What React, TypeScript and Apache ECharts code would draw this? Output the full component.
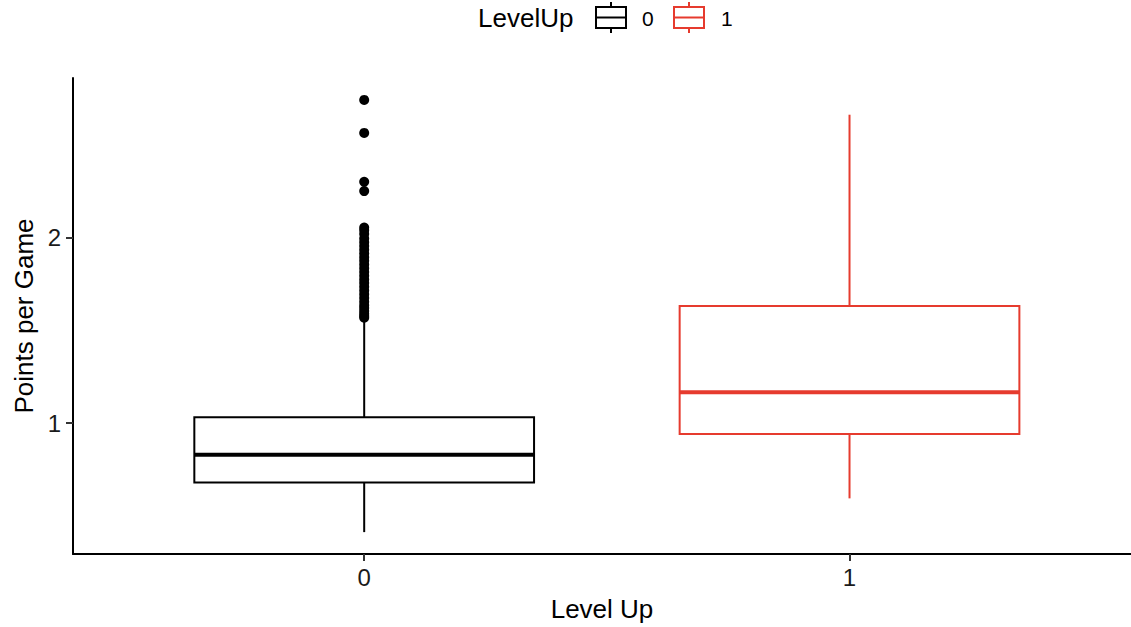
import React, { useEffect, useRef } from "react";
import * as echarts from "echarts";

const categories = ["0", "1"];
const groupColors = ["#000000", "#E63B2E"];
// [x, min(whisker low), Q1, median, Q3, max(whisker high)]
const boxStats = [
  [0, 0.412, 0.679, 0.829, 1.032, 1.55],
  [1, 0.594, 0.941, 1.166, 1.631, 2.663],
];
const outliers0 = [
  2.743, 2.565, 2.301, 2.251, 2.055, 2.04, 2.02, 1.995, 1.975, 1.955, 1.935, 1.915,
  1.895, 1.875, 1.855, 1.835, 1.815, 1.795, 1.775, 1.755, 1.735, 1.715, 1.695,
  1.675, 1.655, 1.635, 1.62, 1.605, 1.59, 1.578, 1.568,
];
const yTicks = [1, 2];
const xTicks = [0, 1];

const BOX_HALF_UNITS = 0.35;

export default function App() {
  const ref = useRef<HTMLDivElement>(null);
  useEffect(() => {
    if (!ref.current) return;
    const chart = echarts.init(ref.current, null, { renderer: "svg" });
    const font = "Liberation Sans, Arial, Helvetica, sans-serif";

    const makeBoxSeries = (i: number) => ({
      type: "custom",
      name: categories[i],
      data: [boxStats[i]],
      encode: { x: 0, y: [1, 2, 3, 4, 5] },
      renderItem: (params: any, api: any) => {
        const x = api.value(0);
        const lo = api.value(1);
        const q1 = api.value(2);
        const med = api.value(3);
        const q3 = api.value(4);
        const hi = api.value(5);
        const pL = api.coord([x - BOX_HALF_UNITS, q3]);
        const pR = api.coord([x + BOX_HALF_UNITS, q1]);
        const pc = api.coord([x, med]);
        const pLo = api.coord([x, lo]);
        const pHi = api.coord([x, hi]);
        const pQ1 = api.coord([x, q1]);
        const pQ3 = api.coord([x, q3]);
        const color = groupColors[i];
        return {
          type: "group",
          children: [
            { type: "line", shape: { x1: pHi[0], y1: pHi[1], x2: pQ3[0], y2: pQ3[1] }, style: { stroke: color, lineWidth: 2 } },
            { type: "line", shape: { x1: pQ1[0], y1: pQ1[1], x2: pLo[0], y2: pLo[1] }, style: { stroke: color, lineWidth: 2 } },
            { type: "rect", shape: { x: pL[0], y: pL[1], width: pR[0] - pL[0], height: pR[1] - pL[1] }, style: { fill: "#fff", stroke: color, lineWidth: 2 } },
            { type: "line", shape: { x1: pL[0], y1: pc[1], x2: pR[0], y2: pc[1] }, style: { stroke: color, lineWidth: 4 } },
          ],
        };
      },
      z: 2,
    });

    const legendKey = (cx: number, color: string) => ({
      type: "group",
      children: [
        { type: "line", shape: { x1: cx, y1: 2, x2: cx, y2: 7 }, style: { stroke: color, lineWidth: 2 } },
        { type: "line", shape: { x1: cx, y1: 28, x2: cx, y2: 33 }, style: { stroke: color, lineWidth: 2 } },
        { type: "rect", shape: { x: cx - 15, y: 7, width: 30, height: 21 }, style: { fill: "#fff", stroke: color, lineWidth: 2 } },
        { type: "line", shape: { x1: cx - 15, y1: 17.5, x2: cx + 15, y2: 17.5 }, style: { stroke: color, lineWidth: 2 } },
      ],
    });

    chart.setOption({
      animation: false,
      backgroundColor: "#fff",
      textStyle: { fontFamily: font },
      grid: { left: 73, right: 0, top: 78, bottom: 69 },
      xAxis: {
        type: "value",
        min: -0.6,
        max: 1.58,
        splitLine: { show: false },
        axisLine: { show: true, onZero: false, lineStyle: { color: "#000", width: 2 } },
        axisTick: { show: true, customValues: xTicks, length: 7, lineStyle: { color: "#333", width: 2 } },
        axisLabel: {
          customValues: xTicks,
          formatter: (v: number) => categories[Math.round(v)] ?? "",
          fontSize: 24,
          color: "#1a1a1a",
          margin: 11,
          fontFamily: font,
        },
        name: "Level Up",
        nameLocation: "middle",
        nameGap: 42,
        nameTextStyle: { fontSize: 26, color: "#000", fontFamily: font },
      },
      yAxis: {
        type: "value",
        min: 0.294,
        max: 2.861,
        splitLine: { show: false },
        axisLine: { show: true, onZero: false, lineStyle: { color: "#000", width: 2 } },
        axisTick: { show: true, customValues: yTicks, length: 7, lineStyle: { color: "#333", width: 2 } },
        axisLabel: {
          customValues: yTicks,
          fontSize: 24,
          color: "#1a1a1a",
          margin: 12,
          fontFamily: font,
        },
        name: "Points per Game",
        nameLocation: "middle",
        nameGap: 34,
        nameRotate: 90,
        nameTextStyle: { fontSize: 26, color: "#000", fontFamily: font },
      },
      graphic: [
        { type: "text", left: 478, top: 5, style: { text: "LevelUp", fill: "#000", font: `26px ${font}` } },
        legendKey(611, groupColors[0]),
        { type: "text", left: 642, top: 8, style: { text: "0", fill: "#000", font: `21px ${font}` } },
        legendKey(689, groupColors[1]),
        { type: "text", left: 721, top: 8, style: { text: "1", fill: "#000", font: `21px ${font}` } },
      ],
      series: [
        makeBoxSeries(0),
        makeBoxSeries(1),
        {
          type: "scatter",
          name: "outliers0",
          data: outliers0.map((v) => [0, v]),
          symbolSize: 10,
          itemStyle: { color: "#000", opacity: 1 },
          z: 3,
        },
      ],
    });
    return () => chart.dispose();
  }, []);
  return <div ref={ref} style={{ width: 1131, height: 627, position: "absolute", left: 0, top: 0 }} />;
}
